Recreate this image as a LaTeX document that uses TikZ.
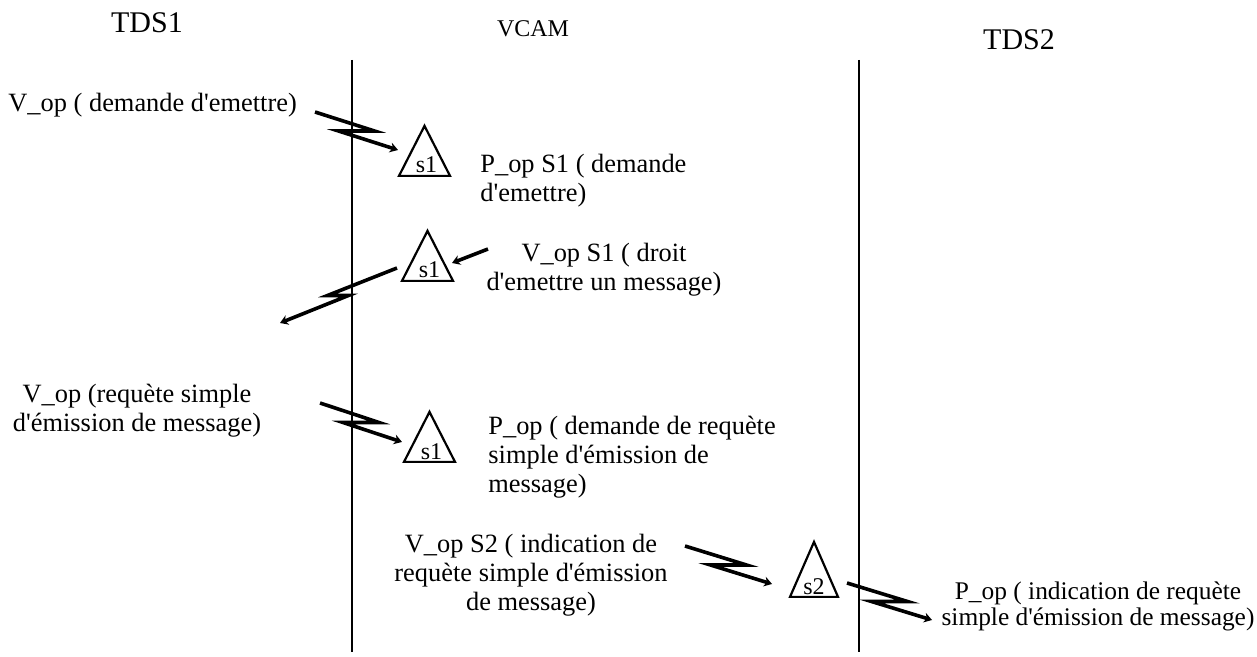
\documentclass[tikz,border=0pt]{standalone}
\usepackage{fontspec}
\setmainfont{Liberation Serif}
\usetikzlibrary{calc}
\usetikzlibrary{arrows.meta, shapes.geometric}
\newcommand{\ap}{\textquotesingle}

\begin{document}
\begin{tikzpicture}[
  x=0.5pt, y=-0.5pt,
  font=\fontsize{13.2}{14.5}\selectfont,
  head/.style={inner sep=0, font=\fontsize{15}{18}\selectfont},
  lbl/.style={inner sep=0, align=center},
  lbll/.style={inner sep=0, align=left},
  life/.style={line width=1pt},
  sig/.style={draw, line width=1.1pt, isosceles triangle,
              isosceles triangle stretches, shape border rotate=90,
              minimum width=25.5pt, minimum height=25pt, inner sep=0,
              anchor=south},
  sigtxt/.style={inner sep=0, anchor=base, font=\fontsize{12}{14}\selectfont},
  msg/.style={-{Stealth[length=4pt, width=5pt]}, line width=1.8pt}
]
\useasboundingbox (0,0) rectangle (1257,657);

%% ---------- heads and life lines ----------
\node[head, anchor=base] (tds1) at (147,33) {TDS1};
\node[head, anchor=base, font=\fontsize{12}{14}\selectfont] (vcam) at (533,37) {VCAM};
\node[head, anchor=base] (tds2) at (1019,50) {TDS2};
\coordinate (l1top) at (352,60);  \coordinate (l1bot) at (352,652);
\coordinate (l2top) at (859,60);  \coordinate (l2bot) at (859,652);
\draw[life] (l1top) -- (l1bot);
\draw[life] (l2top) -- (l2bot);

%% ---------- signals ----------
\node[sig] (sigA) at (424.5,177) {};
\node[sigtxt] (sigAt) at ($(sigA.south)+(2,-4)$) {s1};
\node[sig] (sigB) at (427.5,282) {};
\node[sigtxt] (sigBt) at ($(sigB.south)+(2,-4)$) {s1};
\node[sig] (sigC) at (429.5,463) {};
\node[sigtxt] (sigCt) at ($(sigC.south)+(2,-4)$) {s1};
\node[sig, minimum width=24pt, minimum height=27.5pt] (sigD) at (814,598) {};
\node[sigtxt] (sigDt) at ($(sigD.south)+(0,-4)$) {s2};

%% ---------- labels (base = last line) ----------
\node[lbll, anchor=base west] (vop1) at (8,112) {V\_op ( demande d\ap emettre)};
\node[lbll, anchor=base west] (pop1) at (480,202) {P\_op S1 ( demande\\d\ap emettre)};
\node[lbl, anchor=base] (vop2) at (604,291) {V\_op S1 ( droit\\d\ap emettre un message)};
\node[lbl, anchor=base] (vop3) at (137,431) {V\_op (requète simple\\d\ap émission de message)};
\node[lbll, anchor=base west] (pop3) at (488,492)
  {P\_op ( demande de requète\\simple d\ap émission de\\message)};
\node[lbl, anchor=base] (vop4) at (531,610)
  {V\_op S2 ( indication de\\requète simple d\ap émission\\de message)};
\node[lbl, anchor=base, font=\fontsize{12.7}{13}\selectfont] (pop4) at (1098,625)
  {P\_op ( indication de requète\\simple d\ap émission de message)};

%% ---------- message ends ----------
\coordinate (m1s) at (315,112);  \coordinate (m1e) at (398,150);
\coordinate (m2s) at (488,249);  \coordinate (m2e) at (452,263);
\coordinate (m3s) at (397,268);  \coordinate (m3e) at (280,323);
\coordinate (m4s) at (320,403);  \coordinate (m4e) at (402,442);
\coordinate (m5s) at (685,546);  \coordinate (m5e) at (772,584);
\coordinate (m6s) at (847,583);  \coordinate (m6e) at (932,620);

%% ---------- flow ----------
\draw[msg] (m1s) -- ($(m1s)!.5!(m1e)+(18,0)$) -- ($(m1s)!.5!(m1e)-(18,0)$) -- (m1e);
\draw[msg] (m2s) -- (m2e);
\draw[msg] (m3s) -- ($(m3s)!.5!(m3e)-(11,0)$) -- ($(m3s)!.5!(m3e)+(10,0)$) -- (m3e);
\draw[msg] (m4s) -- ($(m4s)!.5!(m4e)+(18,0)$) -- ($(m4s)!.5!(m4e)-(18,0)$) -- (m4e);
\draw[msg] (m5s) -- ($(m5s)!.5!(m5e)+(18,0)$) -- ($(m5s)!.5!(m5e)-(18,0)$) -- (m5e);
\draw[msg] (m6s) -- ($(m6s)!.5!(m6e)+(18,0)$) -- ($(m6s)!.5!(m6e)-(18,0)$) -- (m6e);
\end{tikzpicture}
\end{document}
